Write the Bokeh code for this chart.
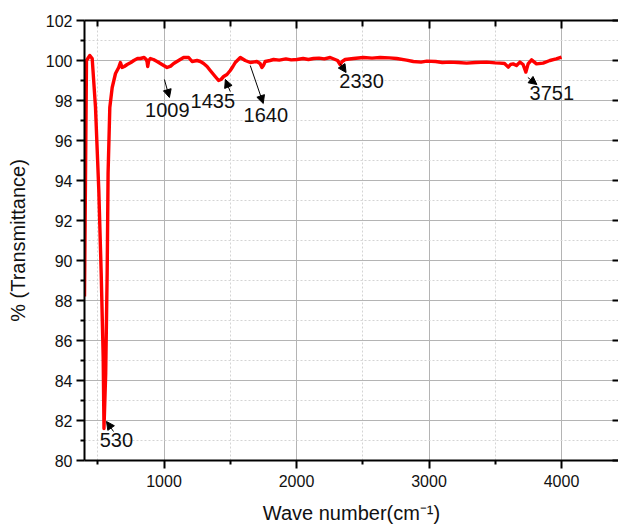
from bokeh.plotting import figure
from bokeh.models import (Range1d, FixedTicker, LinearAxis, Arrow, NormalHead,
                          ColumnDataSource, LabelSet, CustomJSTickFormatter)
from bokeh.core.properties import value
from bokeh.embed import file_html
from bokeh.resources import INLINE

# ---------------- data ----------------
wavenumber = [400, 415, 440, 458, 483, 508, 526, 541, 547, 560, 571, 578, 591, 609,
              634, 658, 671, 684, 700, 722, 750, 772, 800, 822, 850, 866, 872, 877,
              885, 897, 920, 948, 985, 1023, 1050, 1073, 1110, 1148, 1186, 1212,
              1249, 1275, 1299, 1325, 1349, 1380, 1412, 1430, 1450, 1475, 1500,
              1520, 1538, 1576, 1613, 1651, 1701, 1725, 1739, 1750, 1764, 1800,
              1827, 1870, 1920, 1960, 2003, 2050, 2090, 2128, 2170, 2210, 2254,
              2291, 2310, 2329, 2345, 2367, 2430, 2505, 2570, 2631, 2700, 2756,
              2830, 2882, 2940, 2983, 3050, 3100, 3158, 3220, 3284, 3350, 3435,
              3500, 3535, 3570, 3598, 3615, 3635, 3660, 3686, 3710, 3731, 3748,
              3774, 3811, 3861, 3912, 3960, 4000]
transmittance = [88.2, 100.0, 100.25, 100.1, 97.65, 93.5, 89.35, 85.15, 81.6, 84.35,
                 89.35, 94.35, 97.65, 98.65, 99.35, 99.65, 99.9, 99.65, 99.7, 99.8,
                 99.9, 100.0, 100.1, 100.1, 100.15, 100.05, 99.95, 99.7, 100.0, 100.1,
                 100.05, 99.95, 99.8, 99.65, 99.72, 99.85, 100.0, 100.15, 100.15, 99.95,
                 100.0, 99.95, 99.85, 99.7, 99.5, 99.25, 99.0, 99.05, 99.2, 99.3, 99.5,
                 99.7, 99.9, 100.15, 100.0, 99.9, 99.95, 99.85, 99.65, 99.75, 99.95,
                 100.0, 100.05, 100.02, 100.08, 100.03, 100.05, 100.1, 100.05, 100.1,
                 100.12, 100.08, 100.15, 100.05, 100.0, 99.8, 99.95, 100.05, 100.1,
                 100.15, 100.12, 100.15, 100.13, 100.1, 100.02, 99.95, 99.92, 99.97,
                 99.95, 99.9, 99.92, 99.9, 99.87, 99.9, 99.92, 99.88, 99.87, 99.85,
                 99.67, 99.8, 99.83, 99.75, 99.92, 99.8, 99.42, 99.83, 100.03, 99.83,
                 99.87, 100.0, 100.08, 100.17]

x_ticks = [1000, 2000, 3000, 4000]
x_minor_ticks = [500, 1500, 2500, 3500]
y_ticks = [80, 82, 84, 86, 88, 90, 92, 94, 96, 98, 100, 102]
y_minor_ticks = [81, 83, 85, 87, 89, 91, 93, 95, 97, 99, 101]

peak_labels = ["530", "1009", "1435", "1640", "2330", "3751"]
# annotation placement (text centre, arrow start/end) in data units
label_x = [641, 1025, 1368, 1768, 2491, 3927]
label_y = [81.05, 97.53, 97.98, 97.28, 99.0, 98.4]
arrow_x0 = [619, 1003, 1500, 1651, 2329, 3746]
arrow_y0 = [81.45, 99.05, 98.45, 99.75, 99.85, 99.15]
arrow_x1 = [566, 1041, 1463, 1749, 2374, 3814]
arrow_y1 = [81.95, 98.15, 99.05, 97.85, 99.4, 98.8]

FONT = "Liberation Sans"

p = figure(width=618, height=530, output_backend="svg", toolbar_location=None,
           x_range=Range1d(400, 4430), y_range=Range1d(80, 102),
           min_border_left=84, min_border_right=0, min_border_top=20,
           min_border_bottom=70, x_axis_label="Wave number(cm\u207b\u00b9)",
           y_axis_label="% (Transmittance)")
p.outline_line_color = None
p.background_fill_color = "white"
p.border_fill_color = "white"

xt = FixedTicker(ticks=x_ticks, minor_ticks=x_minor_ticks)
yt = FixedTicker(ticks=y_ticks, minor_ticks=y_minor_ticks)

p.xaxis.ticker = xt
p.yaxis.ticker = yt
p.xgrid.ticker = xt
p.ygrid.ticker = yt

for g in (p.xgrid, p.ygrid):
    g.grid_line_color = "#b4b4b4"
    g.grid_line_width = 1
    g.minor_grid_line_color = "#d4d4d4"
    g.minor_grid_line_dash = "2 2"
    g.minor_grid_line_width = 1

for ax in (p.xaxis, p.yaxis):
    ax.axis_line_width = 2
    ax.axis_line_color = "black"
    ax.major_tick_line_width = 2
    ax.minor_tick_line_width = 2
    ax.major_tick_line_color = "black"
    ax.minor_tick_line_color = "black"
    ax.major_tick_in = 0
    ax.major_tick_out = 8
    ax.minor_tick_in = 0
    ax.minor_tick_out = 4
    ax.major_label_text_font = FONT
    ax.major_label_text_font_size = "16px"
    ax.major_label_text_color = "#111111"
    ax.axis_label_text_font = FONT
    ax.axis_label_text_font_size = "20px"
    ax.axis_label_text_font_style = "normal"
    ax.axis_label_text_color = "#111111"

p.xaxis.major_label_standoff = 6
p.xaxis.axis_label_standoff = 12
p.yaxis.major_label_standoff = 4
p.yaxis.axis_label_standoff = 14

empty = CustomJSTickFormatter(code="return ''")
top = LinearAxis(ticker=xt, formatter=empty, major_tick_in=8, major_tick_out=0,
                 minor_tick_in=6, minor_tick_out=0, axis_line_width=2,
                 major_tick_line_width=2, minor_tick_line_width=2,
                 major_label_text_font_size="0px", major_label_standoff=0)
right = LinearAxis(ticker=yt, formatter=empty, major_tick_in=6, major_tick_out=0,
                   minor_tick_in=0, minor_tick_out=0, axis_line_color=None,
                   major_tick_line_width=2, minor_tick_line_width=2,
                   major_label_text_font_size="0px", major_label_standoff=0)
p.add_layout(top, "above")
p.add_layout(right, "right")

src = ColumnDataSource(dict(x=wavenumber, y=transmittance))
p.line("x", "y", source=src, line_color="#ff0000", line_width=3.4,
       line_join="round")

asrc = ColumnDataSource(dict(x0=arrow_x0, y0=arrow_y0, x1=arrow_x1, y1=arrow_y1))
p.add_layout(Arrow(end=NormalHead(size=8, fill_color="black", line_color="black",
                                  line_width=1),
                   x_start="x0", y_start="y0", x_end="x1", y_end="y1",
                   source=asrc, line_color="black", line_width=1))

lsrc = ColumnDataSource(dict(x=label_x, y=label_y, t=peak_labels))
p.add_layout(LabelSet(x="x", y="y", text="t", source=lsrc, text_align="center",
                      text_baseline="middle", text_font=value(FONT),
                      text_font_size="20px", text_color="#111111"))

open("out.html", "w").write(file_html(p, INLINE))
